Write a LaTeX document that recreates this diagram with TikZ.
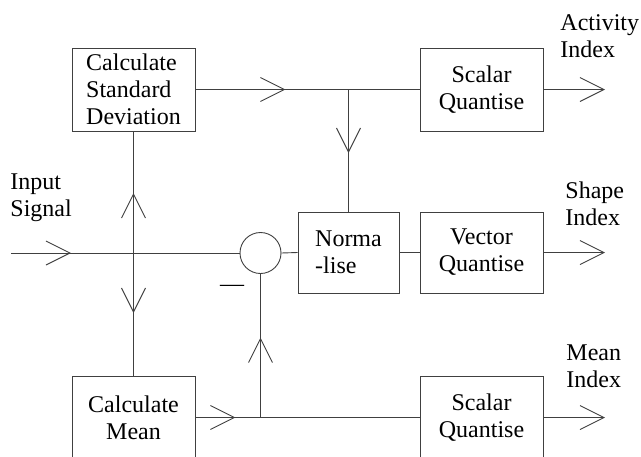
\documentclass[tikz,border=0pt]{standalone}
\usepackage{fontspec}
\setmainfont{Liberation Serif}
\usetikzlibrary{arrows.meta,decorations.markings}

\begin{document}
\begin{tikzpicture}[x=1pt, y=-1pt, line width=0.9pt, draw=black!75, >={Straight Barb[length=24pt, width=24pt]},
    every node/.style={font=\fontsize{24}{27}\selectfont},
    block/.style={draw=black!75, minimum width=123pt, minimum height=83pt, inner sep=0pt, align=center},
    sigtext/.style={anchor=west, inner sep=0pt, align=left},
    arrowat/.style={postaction={decorate}, decoration={markings, mark=at position #1 with {\arrow{>}}}}]
    \useasboundingbox (0,0) rectangle (641,456);
    \clip (0,0) rectangle (641,456);

    % Blokkok
    \node[block, align=left] (stddev) at (133.5,89.5) {Calculate\\Standard\\Deviation};
    \node[block] (sqact) at (481.5,89.5) {Scalar\\Quantise};
    \node[block, minimum width=101pt, minimum height=81pt, align=left] (norm) at (348.5,252.5) {Norma\\-lise};
    \node[block, minimum height=81pt] (vq) at (481.5,252.5) {Vector\\Quantise};
    \node[block] (mean) at (133.5,417.5) {Calculate\\Mean};
    \node[block] (sqmean) at (481.5,417.5) {Scalar\\Quantise};
    \node[draw=black!75, circle, minimum size=41pt, inner sep=0pt] (sum) at (260.5,253) {};
    \node (minus) at (232,288) {\textemdash};

    % Feliratok
    \node[sigtext] (input) at (10,198) {Input\\Signal};
    \node[sigtext] (actidx) at (560,36) {Activity\\Index};
    \node[sigtext] (shapeidx) at (565,204) {Shape\\Index};
    \node[sigtext] (meanidx) at (566,366) {Mean\\Index};

    % Elágazási pontok
    \coordinate (in) at (11,253);
    \coordinate (split) at (stddev.south |- sum.west);
    \coordinate (tap) at (norm.north |- stddev.east);
    \coordinate (join) at (sum.south |- mean.east);
    \coordinate (actout) at (605,89.5);
    \coordinate (shapeout) at (605,252.5);
    \coordinate (meanout) at (605,417.5);

    % Bemenet és az átlag / szórás ágai
    \draw[arrowat=60pt] (in) -- (sum.west);
    \draw[arrowat=60pt] (split) -- (stddev.south);
    \draw[arrowat=60pt] (split) -- (mean.north);

    % Szórás ága
    \draw[arrowat=90pt] (stddev.east) -- (sqact.west);
    \draw[arrowat=63.5pt] (tap) -- (norm.north);

    % Átlag ága
    \draw[arrowat=40pt] (mean.east) -- (sqmean.west);
    \draw[arrowat=80pt] (join) -- (sum.south);

    % Normalizálás
    \draw (sum.east) -- (norm.west);
    \draw (norm.east) -- (vq.west);

    % Kimenetek
    \draw[->] (sqact.east) -- (actout);
    \draw[->] (vq.east) -- (shapeout);
    \draw[->] (sqmean.east) -- (meanout);
\end{tikzpicture}
\end{document}
